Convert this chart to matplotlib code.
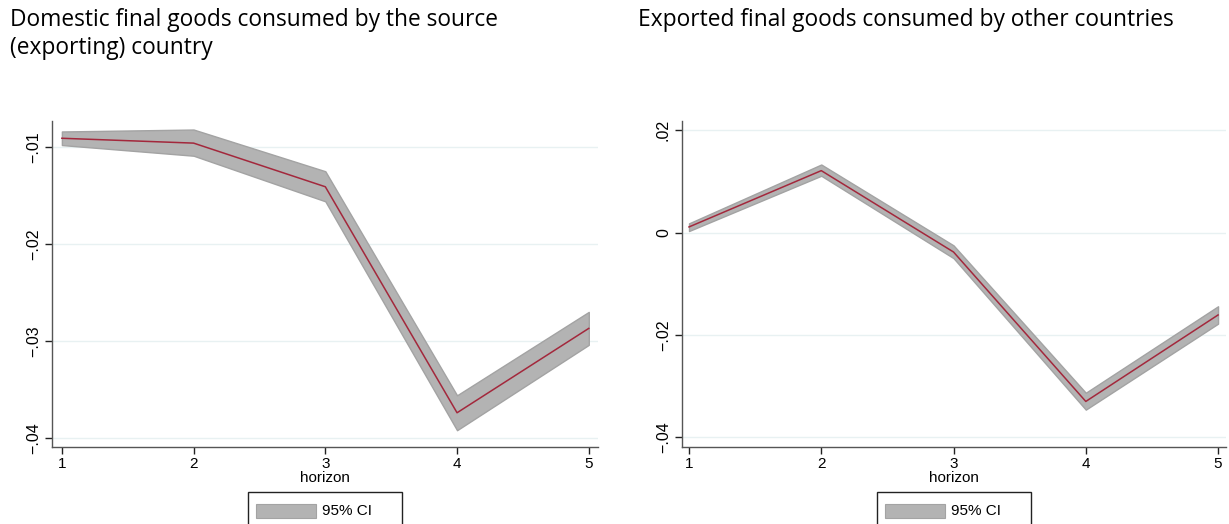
import numpy             as np
import matplotlib.pyplot as plt
from matplotlib.patches import Rectangle

horizon = [1, 2, 3, 4, 5]

# domestic final goods consumed by the source country
dom_coef  = [-0.0091, -0.0096, -0.0141, -0.0374, -0.0287]
dom_upper = [-0.0084, -0.0082, -0.0125, -0.0356, -0.0270]
dom_lower = [-0.0098, -0.0109, -0.0156, -0.0392, -0.0304]

# exported final goods consumed by other countries
exp_coef  = [0.0011, 0.0121, -0.0038, -0.0330, -0.0161]
exp_upper = [0.0018, 0.0133, -0.0025, -0.0313, -0.0144]
exp_lower = [0.0003, 0.0111, -0.0050, -0.0346, -0.0178]

dom_ticks  = [-0.04, -0.03, -0.02, -0.01]
dom_labels = ['\u2212.04', '\u2212.03', '\u2212.02', '\u2212.01']
exp_ticks  = [-0.04, -0.02, 0.0, 0.02]
exp_labels = ['\u2212.04', '\u2212.02', '0', '.02']

titles = ['Domestic final goods consumed by the source\n(exporting) country',
          'Exported final goods consumed by other countries']

W, H = 1229, 524

BAND = '#b3b3b3'
EDGE = '#a3a3a3'
LINE = '#a3283c'
GRID = '#e8f1f2'
AXIS = '#555555'
TICK_FONT = 'Liberation Sans'


def draw_panel(fig, rect, coef, upper, lower, ticks, labels, ylim, xlim):
    ax = fig.add_axes(rect)
    ax.fill_between(horizon, lower, upper, facecolor = BAND, edgecolor = EDGE, linewidth = 1.0, zorder = 2)
    ax.plot(horizon, coef, color = LINE, linewidth = 1.1, zorder = 3)

    ax.set_xlim(*xlim)
    ax.set_ylim(*ylim)
    ax.set_xticks(horizon)
    ax.set_xticklabels([str(h) for h in horizon], fontsize = 11, family = TICK_FONT)
    ax.set_yticks(ticks)
    ax.set_yticklabels(labels, fontsize = 11.5, family = TICK_FONT, rotation = 90, va = 'center')

    for t in ticks:
        ax.axhline(t, color = GRID, linewidth = 1.0, zorder = 1)

    for side in ['top', 'right']:
        ax.spines[side].set_visible(False)
    for side in ['left', 'bottom']:
        ax.spines[side].set_color(AXIS)
        ax.spines[side].set_linewidth(1.0)
    ax.tick_params(axis = 'both', length = 5, width = 1.0, color = '#222222', pad = 2)
    ax.tick_params(axis = 'y', pad = 3)

    ax.set_xlabel('horizon', fontsize = 11, family = TICK_FONT, labelpad = 0)
    return ax


def draw_legend(fig, left):
    # boxed key below the panel, running off the bottom edge
    fig.patches.append(Rectangle((left / W, -0.02), 154 / W, (H - 492) / H + 0.02,
                                 transform = fig.transFigure, facecolor = 'white',
                                 edgecolor = '#222222', linewidth = 1.0))
    fig.patches.append(Rectangle(((left + 8) / W, 1 - 518 / H), 60 / W, 14 / H,
                                 transform = fig.transFigure, facecolor = BAND,
                                 edgecolor = EDGE, linewidth = 0.8))
    fig.text((left + 74) / W, 1 - 511 / H, '95% CI', fontsize = 11, family = TICK_FONT,
             ha = 'left', va = 'center')


def main():
    fig = plt.figure(figsize = (W / 100, H / 100), dpi = 100)

    draw_panel(fig, [52 / W, 77 / H, 546 / W, 326 / H],
               dom_coef, dom_upper, dom_lower, dom_ticks, dom_labels,
               (-0.04093, -0.00732), (0.925, 5.07))
    draw_panel(fig, [682 / W, 77 / H, 544 / W, 326 / H],
               exp_coef, exp_upper, exp_lower, exp_ticks, exp_labels,
               (-0.0419, 0.0218), (0.947, 5.06))

    fig.text(10 / W, 1 - 8 / H, titles[0], fontsize = 16.4, family = 'Open Sans',
             ha = 'left', va = 'top', linespacing = 1.24)
    fig.text(638 / W, 1 - 8 / H, titles[1], fontsize = 16.4, family = 'Open Sans',
             ha = 'left', va = 'top')

    draw_legend(fig, 248)
    draw_legend(fig, 877)

    plt.savefig('out.png', dpi = 100, format = 'png')
    plt.close()


if __name__ == "__main__":
    main()
